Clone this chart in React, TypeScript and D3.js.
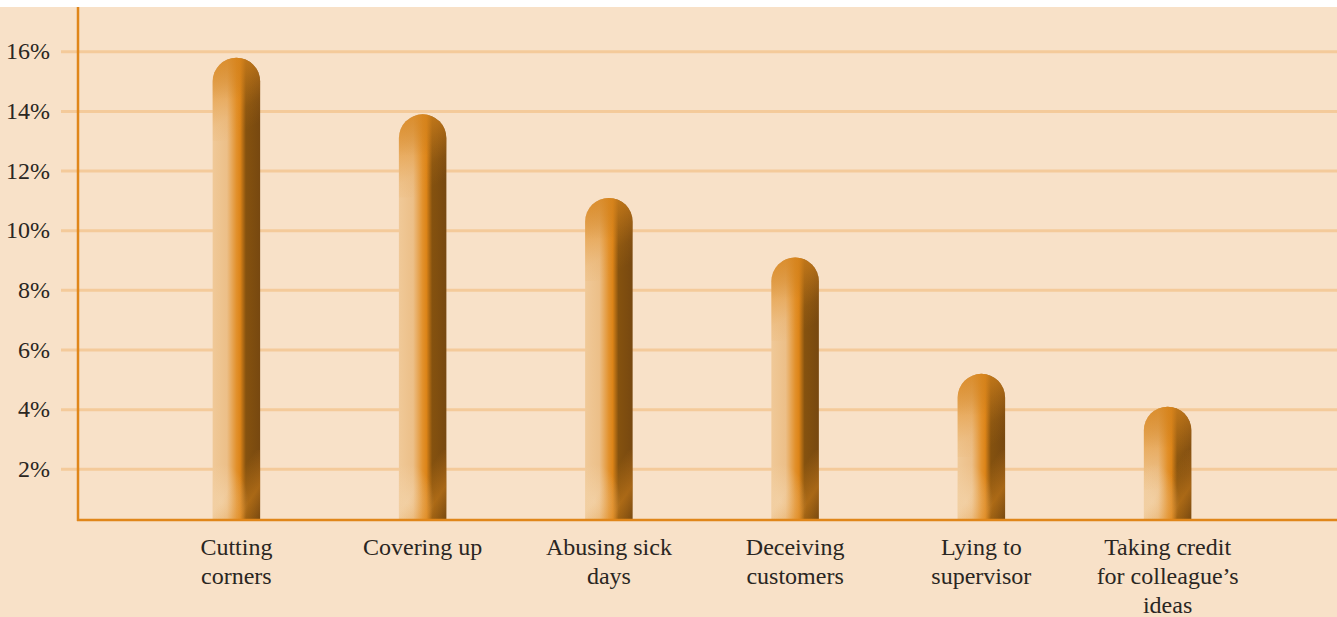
import { scaleBand, scaleLinear } from 'd3'

const width = 1337
const height = 617

const categories = [
  'Cutting corners',
  'Covering up',
  'Abusing sick days',
  'Deceiving customers',
  'Lying to supervisor',
  "Taking credit for colleague’s ideas",
]
const labelLines = [
  ['Cutting', 'corners'],
  ['Covering up'],
  ['Abusing sick', 'days'],
  ['Deceiving', 'customers'],
  ['Lying to', 'supervisor'],
  ['Taking credit', 'for colleague’s', 'ideas'],
]
const values = [15.8, 13.9, 11.1, 9.1, 5.2, 4.1]
const yTicks = [2, 4, 6, 8, 10, 12, 14, 16]

const margin = { top: 7, left: 78, bottom: 97 }
const font = '"Liberation Serif", "Times New Roman", serif'

function App() {
  const innerBottom = height - margin.bottom

  const yScale = scaleLinear()
    .domain([0.3, 17.5])
    .range([innerBottom, margin.top])

  const xScale = scaleBand()
    .domain(categories)
    .range([margin.left, 1326])
    .paddingInner(0.745)
    .paddingOuter(0.723)

  const bw = xScale.bandwidth()
  const r = bw / 2

  const barPath = (x: number, top: number, bottom: number) =>
    `M${x},${bottom} L${x},${top + r} A${r},${r} 0 0 1 ${x + bw},${top + r} L${x + bw},${bottom} Z`

  return (
    <svg
      width={width}
      height={height}
      style={{ position: 'absolute', left: 0, top: 0, display: 'block' }}
    >
      <defs>
        <linearGradient id="barBody" x1="0" y1="0" x2="1" y2="0">
          <stop offset="0" stopColor="#f0c998" />
          <stop offset="0.3" stopColor="#ecbf88" />
          <stop offset="0.5" stopColor="#e2912c" />
          <stop offset="0.58" stopColor="#dc8418" />
          <stop offset="0.7" stopColor="#85520f" />
          <stop offset="1" stopColor="#774810" />
        </linearGradient>
        <linearGradient id="capGlow" x1="0" y1="0" x2="0.35" y2="1">
          <stop offset="0" stopColor="#e08a1e" stopOpacity="0.85" />
          <stop offset="0.35" stopColor="#e08a1e" stopOpacity="0.55" />
          <stop offset="0.75" stopColor="#e08a1e" stopOpacity="0.12" />
          <stop offset="1" stopColor="#e08a1e" stopOpacity="0" />
        </linearGradient>
        <linearGradient id="capDark" x1="0" y1="0" x2="0" y2="1">
          <stop offset="0" stopColor="#7a4a10" stopOpacity="0.3" />
          <stop offset="0.5" stopColor="#7a4a10" stopOpacity="0" />
        </linearGradient>
        <radialGradient id="footGlow" cx="0.2" cy="0.75" r="0.55">
          <stop offset="0" stopColor="#f6dcb8" stopOpacity="0.5" />
          <stop offset="1" stopColor="#f6dcb8" stopOpacity="0" />
        </radialGradient>
        <linearGradient id="footShade" x1="0" y1="0" x2="1" y2="1">
          <stop offset="0.45" stopColor="#e08a1e" stopOpacity="0" />
          <stop offset="0.75" stopColor="#e08a1e" stopOpacity="0.45" />
          <stop offset="1" stopColor="#e08a1e" stopOpacity="0" />
        </linearGradient>
      </defs>

      <rect x={0} y={0} width={width} height={height} fill="#ffffff" />
      <rect x={0} y={margin.top} width={width} height={height - margin.top} fill="#f8e1c8" />

      {yTicks.map((t) => (
        <g key={t} transform={`translate(0, ${yScale(t)})`}>
          <line x1={61} x2={width} stroke="#f4ca9a" strokeWidth={3} />
          <text
            x={50}
            dy="0.32em"
            textAnchor="end"
            fontFamily={font}
            fontSize={24}
            fill="#2a2622"
          >{t}%</text>
        </g>
      ))}

      {categories.map((c, i) => {
        const x = xScale(c) as number
        const top = yScale(values[i])
        const capBottom = Math.min(top + 3.5 * r, innerBottom)
        return (
          <g key={c}>
            <path d={barPath(x, top, innerBottom)} fill="url(#barBody)" />
            <path d={barPath(x, top, capBottom)} fill="url(#capDark)" />
            <path d={barPath(x, top, capBottom)} fill="url(#capGlow)" />
            <rect
              x={x}
              y={innerBottom - 70}
              width={bw}
              height={70}
              fill="url(#footShade)"
            />
            <rect
              x={x}
              y={innerBottom - 70}
              width={bw}
              height={70}
              fill="url(#footGlow)"
            />
          </g>
        )
      })}

      <line x1={margin.left} x2={margin.left} y1={margin.top} y2={innerBottom + 1} stroke="#e0861a" strokeWidth={2.5} />
      <line x1={margin.left - 1} x2={width} y1={innerBottom} y2={innerBottom} stroke="#e0861a" strokeWidth={2.5} />

      {categories.map((c, i) => (
        <text
          key={c}
          x={(xScale(c) as number) + bw / 2}
          y={555}
          textAnchor="middle"
          fontFamily={font}
          fontSize={24}
          fill="#2a2622"
        >
          {labelLines[i].map((line, j) => (
            <tspan key={j} x={(xScale(c) as number) + bw / 2} dy={j === 0 ? 0 : 29}>{line}</tspan>
          ))}
        </text>
      ))}
    </svg>
  )
}

export default App
